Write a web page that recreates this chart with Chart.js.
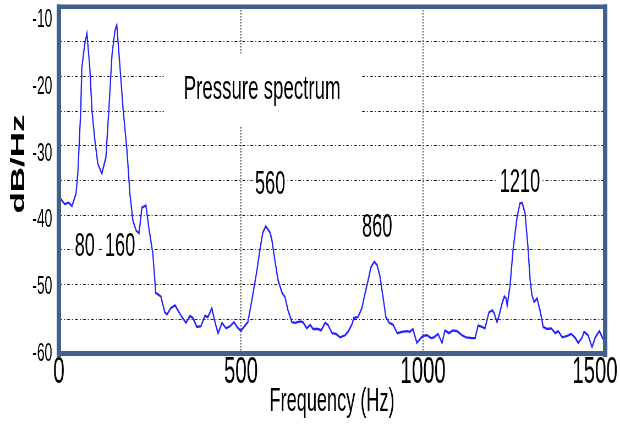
<!DOCTYPE html>
<html>
<head>
<meta charset="utf-8">
<script src="https://cdn.jsdelivr.net/npm/chart.js@4.4.0/dist/chart.umd.min.js"></script>
<style>
html,body{margin:0;padding:0;background:#fff;}
</style>
</head>
<body>
<!-- drawn wide and squeezed to 620px, the source figure has narrow lettering -->
<canvas id="spec" width="1127" height="427" style="display:block;width:620px;height:427px"></canvas>
<script>
// pressure spectrum: frequency (Hz) / level (dB/Hz)
const freq = [0,16,27,36,47,52,60,63,71,77,85,91,99,107,118,129,137,146,154,159,
	168,176,187,195,203,212,220,228,239,247,258,266,280,291,297,307,319,327,338,349,
	360,368,379,390,401,409,420,429,437,448,459,470,481,489,500,508,519,530,544,552,
	560,568,580,585,593,602,613,621,629,640,648,662,670,681,690,698,712,720,731,739,
	750,761,772,786,794,805,810,821,832,841,849,857,866,874,882,890,898,907,918,929,
	942,956,964,972,983,994,1000,1011,1022,1030,1041,1052,1060,1071,1082,1093,1107,1118,1135,1143,
	1151,1162,1170,1181,1190,1195,1203,1209,1217,1223,1228,1231,1239,1247,1258,1266,1272,1280,1288,1294,
	1299,1305,1313,1321,1330,1341,1352,1363,1371,1382,1396,1407,1418,1426,1437,1442,1453,1464,1473,1484,
	1492,1500];
const level = [-37.3,-38.4,-38.2,-38.7,-36.9,-34,-25,-18.8,-15.3,-13.8,-18.8,-25,-29.3,-32.6,-34,-31.7,-25,-16.8,-13.4,-12.6,
	-18.8,-24.5,-30.7,-36.9,-40.7,-42.2,-42.6,-38.9,-38.6,-41.8,-45.5,-51.2,-51.7,-54,-54.3,-53.4,-53,-53.7,-54.7,-55.5,
	-54.5,-54.8,-56.1,-56,-54.5,-54.7,-53.4,-55.5,-57,-55.5,-56.3,-56,-55.4,-56.1,-56.7,-56.1,-55.4,-52.2,-47.9,-45,
	-42.5,-41.6,-42.5,-43.6,-46.5,-49.4,-51.2,-51.8,-53.7,-55.4,-55.5,-55.3,-55.4,-56.3,-55.8,-56.4,-56.4,-56.6,-55.5,-55.8,
	-57,-57.1,-57.6,-57.3,-56.8,-55.7,-54.8,-54.7,-53.4,-51.2,-49.4,-47.5,-46.7,-47.2,-48.9,-51.8,-54.7,-55.5,-55.8,-57,
	-56.8,-56.7,-56.8,-56.4,-58.4,-57.7,-57.4,-57.3,-57.7,-57.6,-57.1,-58.4,-56.6,-57,-56.6,-56.7,-57.3,-57.6,-57.7,-57.7,
	-55.9,-56.1,-56.3,-54,-53.7,-54.1,-55.4,-54.4,-52.7,-51.7,-52,-53,-50.1,-45,-40.3,-38.3,-38.2,-39.7,-44.6,-49.4,
	-51.5,-52.5,-52,-53.7,-56.1,-56.4,-56.3,-57,-56.7,-57.6,-57.4,-57.1,-57.7,-58.4,-57.6,-56.8,-57.3,-59,-57.6,-56.7,
	-57.6,-58.3];

const xTicks = [0, 500, 1000, 1500];
const yTicks = [-60, -50, -40, -30, -20, -10];

// text notes placed in data units
const noteText = ['Pressure spectrum', '560', '860', '1210', '80', '160'];
const noteFreq = [558, 580, 874, 1266, 71, 168];
const noteLevel = [-21.9, -35.7, -41.9, -35.3, -44.5, -44.5];

const plain = "'Liberation Sans', Arial, sans-serif";
const frameColor = '#41608b';

function mkPoints(){
	return freq.map((f,i)=>({x:f, y:level[i]}));
}

const notesPlugin = {
	id:'notes',
	beforeDatasetsDraw(chart){
		const ctx = chart.ctx, xs = chart.scales.x, ys = chart.scales.y;
		ctx.save();
		ctx.textAlign = 'center';
		ctx.textBaseline = 'middle';
		noteText.forEach((t,i)=>{
			ctx.font = (i===0 ? '34px ' : '33px ') + plain;
			const px = xs.getPixelForValue(noteFreq[i]);
			const py = ys.getPixelForValue(noteLevel[i]);
			const w = ctx.measureText(t).width;
			// the title sits in a white text box that cuts the grid
			const padX = i===0 ? 36 : 4, padY = i===0 ? 36 : 12;
			ctx.fillStyle = '#fff';
			ctx.fillRect(px-w/2-padX, py-padY, w+2*padX, 2*padY);
			ctx.fillStyle = '#000';
			ctx.fillText(t, px, py);
		});
		ctx.restore();
	},
	afterDraw(chart){
		const ctx = chart.ctx, a = chart.chartArea;
		const w = a.right-a.left, h = a.bottom-a.top;
		ctx.save();
		ctx.fillStyle = frameColor;
		ctx.fillRect(a.left-4, a.top-2.5, w+8, 4.5);
		ctx.fillRect(a.left-4, a.bottom-3, w+8, 5);
		ctx.fillRect(a.left-4, a.top-2.5, 8, h+5.5);
		ctx.fillRect(a.right-4, a.top-2.5, 8, h+5.5);
		ctx.fillStyle = '#000';
		ctx.font = 'bold 35px ' + plain;
		ctx.translate(34, 164);
		ctx.rotate(-Math.PI/2);
		ctx.textAlign = 'center';
		ctx.textBaseline = 'middle';
		ctx.fillText('dB/Hz', 0, 0);
		ctx.restore();
	}
};

const spec = new Chart(document.querySelector('#spec'), {
	type:'line',
	data:{
		datasets:[{
			data:mkPoints(),
			borderColor:'#2222ff',
			borderWidth:2.3,
			pointRadius:0,
			tension:0
		}]
	},
	options:{
		responsive:false,
		devicePixelRatio:1,
		animation:false,
		layout:{padding:{top:7, right:27, bottom:0, left:0}},
		plugins:{legend:{display:false}, tooltip:{enabled:false}},
		scales:{
			x:{
				type:'linear', min:0, max:1500,
				afterBuildTicks(s){ s.ticks = xTicks.map(v=>({value:v})); },
				afterFit(s){ s.height = 73; s.paddingLeft = 0; s.paddingRight = 0; },
				grid:{color:'#333', lineWidth:1.8, drawTicks:false},
				border:{display:false, dash:[1.5,1.5]},
				ticks:{color:'#000', padding:0, autoSkip:false, maxRotation:0,
					font:{family:plain, size:37, lineHeight:1},
					// last label is pulled in from the page edge, as in the source
					callback:(v)=> v===1500 ? String(v)+'\u2003' : String(v)},
				title:{display:true, text:'Frequency (Hz)', color:'#000',
					font:{family:plain, size:33, lineHeight:1.2}, padding:{top:0, bottom:5}}
			},
			y:{
				type:'linear', position:'left', min:-60, max:-10,
				ticks:{display:false, stepSize:5},
				afterFit(s){ s.width = 0; s.paddingTop = 0; s.paddingBottom = 0; },
				grid:{color:'#222', lineWidth:1, drawTicks:false},
				border:{display:false, dash:[5.5,3.6,1.8,3.6]}
			},
			// tick labels in the source sit a little below their gridlines
			yl:{
				type:'linear', position:'left', min:-60, max:-8.05,
				afterBuildTicks(s){ s.ticks = yTicks.map(v=>({value:v})); },
				afterFit(s){ s.width = 107; s.paddingTop = 0; s.paddingBottom = 0; },
				grid:{display:false, drawTicks:false},
				border:{display:false},
				ticks:{color:'#000', padding:12, autoSkip:false,
					font:{family:plain, size:25}}
			}
		}
	},
	plugins:[notesPlugin]
});
</script>
</body>
</html>
